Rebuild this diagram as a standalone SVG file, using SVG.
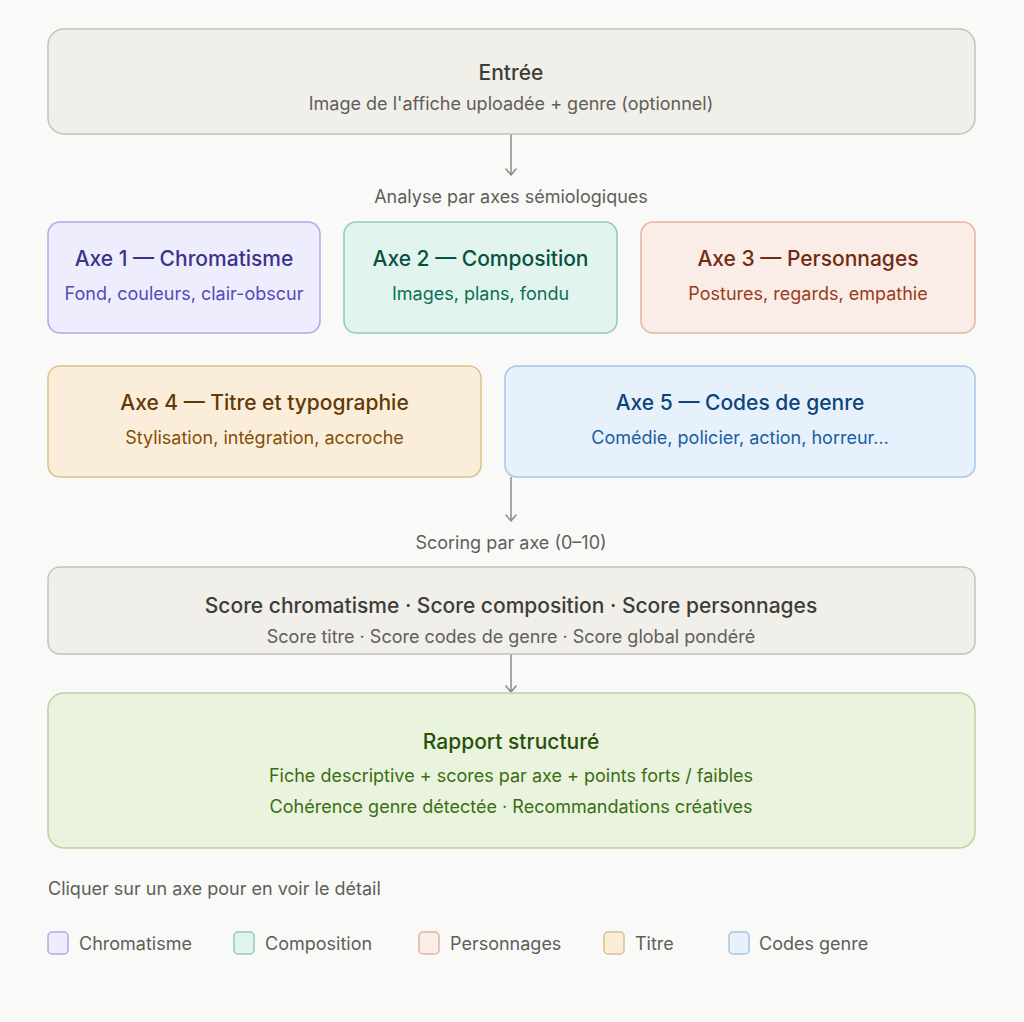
<svg xmlns="http://www.w3.org/2000/svg" width="1024" height="1022" viewBox="0 0 1024 1022">
<defs>
<marker id="arr" viewBox="0 0 10 12" refX="8" refY="6" markerWidth="10" markerHeight="12" markerUnits="userSpaceOnUse" orient="auto">
<path d="M2 1 L8 6 L2 11" fill="none" stroke="#8a8984" stroke-width="1.5" stroke-linecap="round" stroke-linejoin="round"/>
</marker>
<style>
text{font-family:Inter,"Open Sans","Liberation Sans",sans-serif;text-anchor:middle;dominant-baseline:central}
.t{font-size:21px;font-weight:500}
.s{font-size:18px;font-weight:400}
.l{font-size:18px;font-weight:400;fill:#5f5e5a}
.lg{text-anchor:start}
.gray rect{fill:#f1efe9;stroke:#c4c2bb}
.gray .t{fill:#3d3d3a}.gray .s{fill:#5f5e5a}
.pur rect{fill:#eeedfe;stroke:#afa9ec}.pur .t{fill:#3c3489}.pur .s{fill:#534ab7}
.grn rect{fill:#e1f5ee;stroke:#8fcbb5}.grn .t{fill:#085041}.grn .s{fill:#0f6e56}
.cor rect{fill:#faece7;stroke:#e5b3a0}.cor .t{fill:#712b13}.cor .s{fill:#993c1d}
.amb rect{fill:#faeeda;stroke:#dcc08a}.amb .t{fill:#633806}.amb .s{fill:#854f0b}
.blu rect{fill:#e6f1fb;stroke:#a5c4e8}.blu .t{fill:#0c447c}.blu .s{fill:#185fa5}
.lim rect{fill:#eaf3de;stroke:#b8d3a0}.lim .t{fill:#27500a}.lim .s{fill:#3b6d11}
rect{stroke-width:1.5}
.conn line{stroke:#8a8984;stroke-width:1.5;fill:none}
</style>
</defs>
<rect x="0" y="0" width="1024" height="1022" fill="#f9f9f7"/>

<g id="connectors" class="conn">
<line x1="511" y1="134" x2="511" y2="175" marker-end="url(#arr)"/>
<line x1="511" y1="477" x2="511" y2="521" marker-end="url(#arr)"/>
<line x1="511" y1="654" x2="511" y2="692" marker-end="url(#arr)"/>
</g>

<g id="entree" class="gray">
<rect x="48" y="29" width="927" height="105" rx="16"/>
<text class="t" x="511" y="72">Entrée</text>
<text class="s" x="511" y="103">Image de l'affiche uploadée + genre (optionnel)</text>
</g>

<text class="l" x="511" y="196">Analyse par axes sémiologiques</text>

<g id="axe1" class="pur">
<rect x="48" y="222" width="272" height="111" rx="12"/>
<text class="t" x="184" y="258">Axe 1 — Chromatisme</text>
<text class="s" x="184" y="293">Fond, couleurs, clair-obscur</text>
</g>
<g id="axe2" class="grn">
<rect x="344" y="222" width="273" height="111" rx="12"/>
<text class="t" x="480.5" y="258">Axe 2 — Composition</text>
<text class="s" x="480.5" y="293">Images, plans, fondu</text>
</g>
<g id="axe3" class="cor">
<rect x="641" y="222" width="334" height="111" rx="12"/>
<text class="t" x="808" y="258">Axe 3 — Personnages</text>
<text class="s" x="808" y="293">Postures, regards, empathie</text>
</g>
<g id="axe4" class="amb">
<rect x="48" y="366" width="433" height="111" rx="12"/>
<text class="t" x="264.5" y="402">Axe 4 — Titre et typographie</text>
<text class="s" x="264.5" y="437">Stylisation, intégration, accroche</text>
</g>
<g id="axe5" class="blu">
<rect x="505" y="366" width="470" height="111" rx="12"/>
<text class="t" x="740" y="402">Axe 5 — Codes de genre</text>
<text class="s" x="740" y="437">Comédie, policier, action, horreur…</text>
</g>

<text class="l" x="511" y="542">Scoring par axe (0–10)</text>

<g id="scores" class="gray">
<rect x="48" y="567" width="927" height="87" rx="12"/>
<text class="t" x="511" y="605">Score chromatisme · Score composition · Score personnages</text>
<text class="s" x="511" y="636">Score titre · Score codes de genre · Score global pondéré</text>
</g>

<g id="rapport" class="lim">
<rect x="48" y="693" width="927" height="155" rx="16"/>
<text class="t" x="511" y="741">Rapport structuré</text>
<text class="s" x="511" y="775">Fiche descriptive + scores par axe + points forts / faibles</text>
<text class="s" x="511" y="806">Cohérence genre détectée · Recommandations créatives</text>
</g>

<text class="l lg" x="48" y="888">Cliquer sur un axe pour en voir le détail</text>

<g id="legend">
<g class="pur"><rect x="48" y="932" width="20" height="22" rx="4"/></g>
<text class="l lg" x="79" y="943">Chromatisme</text>
<g class="grn"><rect x="234" y="932" width="20" height="22" rx="4"/></g>
<text class="l lg" x="265" y="943">Composition</text>
<g class="cor"><rect x="419" y="932" width="20" height="22" rx="4"/></g>
<text class="l lg" x="450" y="943">Personnages</text>
<g class="amb"><rect x="604" y="932" width="20" height="22" rx="4"/></g>
<text class="l lg" x="635" y="943">Titre</text>
<g class="blu"><rect x="729" y="932" width="20" height="22" rx="4"/></g>
<text class="l lg" x="759" y="943">Codes genre</text>
</g>
</svg>
